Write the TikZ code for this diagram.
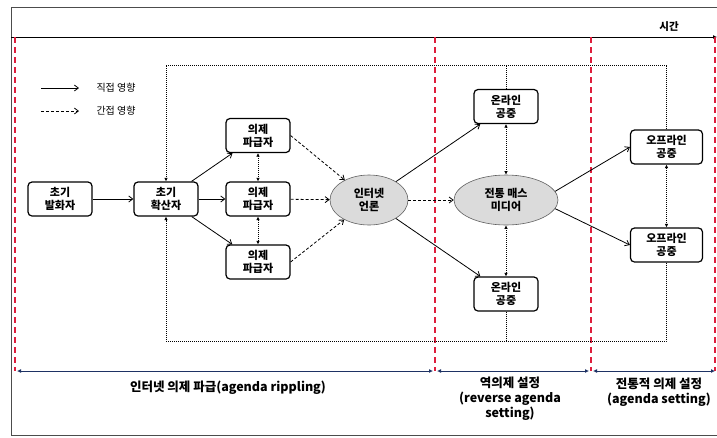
\documentclass[tikz,border=0pt]{standalone}
\usepackage{fontspec}
\setmainfont{Noto Sans CJK KR}
\usetikzlibrary{arrows.meta,shapes.geometric}
\definecolor{redline}{RGB}{222,30,60}
\definecolor{navy}{RGB}{30,50,100}
\begin{document}
\begin{tikzpicture}[x=1pt,y=-1pt,
  box/.style={draw, line width=1.2pt, rounded corners=4pt, minimum width=64pt, minimum height=34pt, align=center, inner sep=1pt, font=\bfseries\fontsize{11}{13}\selectfont},
  obox/.style={box, minimum width=72pt},
  ell/.style={ellipse, draw=gray!75!black, line width=0.6pt, fill=gray!28, align=center, inner sep=0pt, font=\bfseries\fontsize{11}{13}\selectfont},
  sol/.style={line width=0.8pt, -{Straight Barb[length=4pt,width=6pt]}},
  dsh/.style={sol, dash pattern=on 3pt off 2pt},
  dbl/.style={line width=0.9pt, dash pattern=on 1pt off 1pt, {Latex[length=3.5pt,width=3.5pt]}-{Latex[length=3.5pt,width=3.5pt]}},
  fb/.style={line width=0.8pt, dash pattern=on 1pt off 1pt},
  reddash/.style={draw=redline, line width=1.4pt, dash pattern=on 6pt off 4pt},
  span/.style={draw=navy, line width=0.8pt, {Latex[length=4pt,width=4pt]}-{Latex[length=4pt,width=4pt]}},
  lbl/.style={font=\bfseries\fontsize{12.5}{15}\selectfont, align=center},
  leg/.style={anchor=west, font=\fontsize{10}{12}\selectfont}
]
\useasboundingbox (0,0) rectangle (717,437);
% frame
\draw[gray!60!black, line width=0.8pt] (717,7) -- (11,7) -- (11,435) -- (717,435);
\draw[line width=1pt, -{Latex[length=4pt,width=4pt]}] (11,37) -- (717,37);
\node[font=\bfseries\fontsize{10.5}{12}\selectfont] (time) at (669,27) {시간};
% red dashed separators
\draw[reddash] (15,37) -- (15,371);
\draw[reddash] (435,37) -- (435,371);
\draw[reddash] (591,37) -- (591,371);
\draw[reddash] (715,37) -- (715,371);
% spans
\coordinate (s0) at (17,371);
\coordinate (s1) at (433,371);
\coordinate (s2) at (437,371);
\coordinate (s3) at (589,371);
\coordinate (s4) at (593,371);
\coordinate (s5) at (715,371);
\draw[span] (s0) -- (s1);
\draw[span] (s2) -- (s3);
\draw[span] (s4) -- (s5);
\node[lbl] (l1) at (228,388) {인터넷 의제 파급(agenda rippling)};
\node[lbl] (l2) at (510,399) {역의제 설정\\(reverse agenda\\setting)};
\node[lbl] (l3) at (659,392) {전통적 의제 설정\\(agenda setting)};
% legend
\coordinate (lg1a) at (41,88); \coordinate (lg1b) at (79,88);
\coordinate (lg2a) at (41,111); \coordinate (lg2b) at (79,111);
\draw[sol] (lg1a) -- (lg1b);
\draw[dsh] (lg2a) -- (lg2b);
\node[leg] (lg1t) at (93,88) {직접 영향};
\node[leg] (lg2t) at (93,111) {간접 영향};
% nodes
\node[box] (a1) at (60,199) {초기\\발화자};
\node[box] (a2) at (166,199) {초기\\확산자};
\node[box] (p1) at (258,135.5) {의제\\파급자};
\node[box] (p2) at (258,199) {의제\\파급자};
\node[box] (p3) at (258,262) {의제\\파급자};
\node[ell, minimum width=78pt, minimum height=50pt] (inet) at (369,200) {인터넷\\언론};
\node[ell, minimum width=104pt, minimum height=50pt] (tm) at (506,200) {전통 매스\\미디어};
\node[box] (on1) at (506,106.5) {온라인\\공중};
\node[box] (on2) at (506,294) {온라인\\공중};
\node[obox] (off1) at (666.5,147) {오프라인\\공중};
\node[obox] (off2) at (666.5,245) {오프라인\\공중};
% feedback dotted frame
\coordinate (TL) at (166,65);
\coordinate (TR) at (666.5,65);
\coordinate (BL) at (166,341);
\coordinate (BR) at (666.5,341);
\draw[fb, -{Latex[length=3.5pt,width=3.5pt]}] (off1.north) -- (TR) -- (TL) -- (a2.north);
\draw[fb, -{Latex[length=3.5pt,width=3.5pt]}] (off2.south) -- (BR) -- (BL) -- (a2.south);
\draw[fb] (on1.north) -- (on1.north |- TL);
\draw[fb] (on2.south) -- (on2.south |- BL);
% connectors
\draw[sol] (a1) -- (a2);
\draw[sol] (a2) -- (p1);
\draw[sol] (a2) -- (p2);
\draw[sol] (a2) -- (p3);
\draw[dbl] (p1) -- (p2);
\draw[dbl] (p2) -- (p3);
\draw[dsh] (p1.east) -- (inet);
\draw[dsh] (p2) -- (inet);
\draw[dsh] (p3.east) -- (inet);
\draw[sol] (inet) -- (on1);
\draw[sol] (inet) -- (on2);
\draw[dsh] (inet) -- (tm);
\draw[dbl] (on1) -- (tm);
\draw[dbl] (tm) -- (on2);
\draw[sol] (tm.10) -- (off1.west);
\draw[sol] (tm.-10) -- (off2.west);
\draw[dbl] (off1) -- (off2);
\end{tikzpicture}
\end{document}
